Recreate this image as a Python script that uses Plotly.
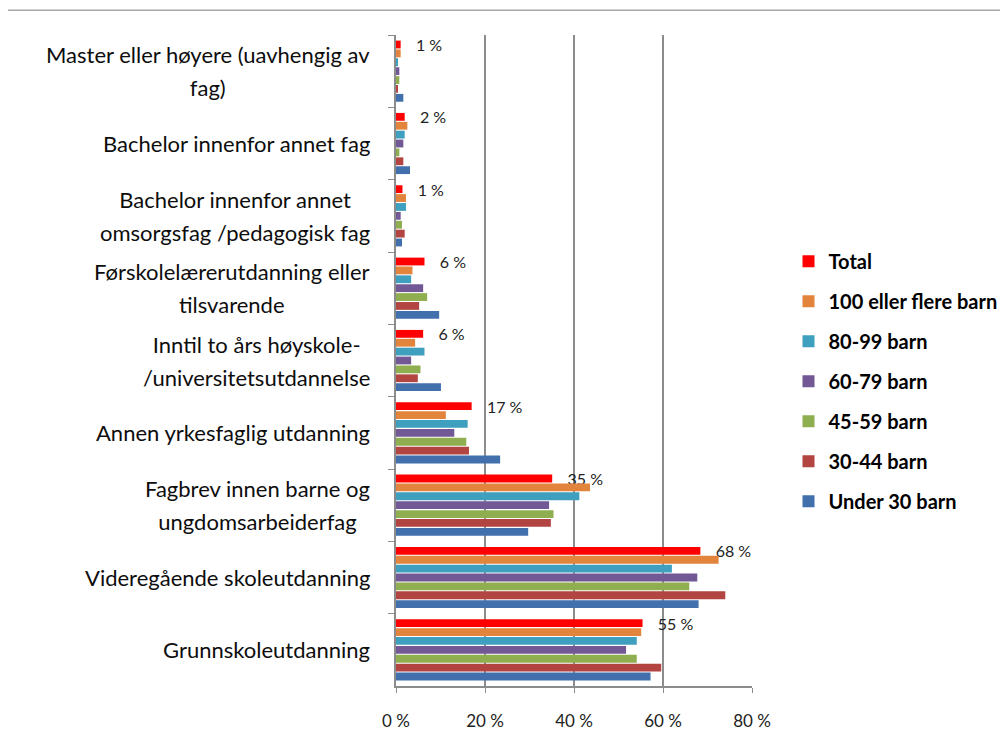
import plotly.graph_objects as go

# categories, top to bottom
categories = [
    "Master eller høyere (uavhengig av<br>fag)",
    "Bachelor innenfor annet fag",
    "Bachelor innenfor annet<br>omsorgsfag /pedagogisk fag",
    "Førskolelærerutdanning eller<br>tilsvarende",
    "Inntil to års høyskole-<br>/universitetsutdannelse",
    "Annen yrkesfaglig utdanning",
    "Fagbrev innen barne og<br>ungdomsarbeiderfag",
    "Videregående skoleutdanning",
    "Grunnskoleutdanning",
]

series_names = [
    "Total",
    "100 eller flere barn",
    "80-99 barn",
    "60-79 barn",
    "45-59 barn",
    "30-44 barn",
    "Under 30 barn",
]

total = [1.05, 1.95, 1.45, 6.4, 6.1, 17.0, 35.1, 68.4, 55.4]
barn_100 = [1.05, 2.55, 2.25, 3.7, 4.3, 11.2, 43.6, 72.5, 55.1]
barn_80_99 = [0.45, 1.95, 2.25, 3.4, 6.4, 16.1, 41.2, 62.0, 54.1]
barn_60_79 = [0.75, 1.65, 1.05, 6.1, 3.4, 13.1, 34.4, 67.7, 51.7]
barn_45_59 = [0.75, 0.75, 1.35, 7.0, 5.5, 15.8, 35.4, 65.9, 54.1]
barn_30_44 = [0.45, 1.65, 1.95, 5.2, 4.9, 16.4, 34.8, 74.0, 59.6]
barn_under_30 = [1.65, 3.15, 1.35, 9.7, 10.1, 23.4, 29.7, 68.0, 57.2]

series_values = [total, barn_100, barn_80_99, barn_60_79, barn_45_59, barn_30_44, barn_under_30]

colors = ["#ff0000", "#e3843c", "#3f9fbf", "#735896", "#8fae50", "#b24542", "#4170ad"]

x_ticks = [0, 20, 40, 60, 80]
x_tick_labels = ["0 %", "20 %", "40 %", "60 %", "80 %"]

FONT = "Lato"

fig = go.Figure()

for ix, (name, vals) in enumerate(zip(series_names, series_values)):
    bar = dict(
        x=vals,
        y=categories,
        name=name,
        orientation="h",
        marker=dict(color=colors[ix], line=dict(width=0)),
        legendgroup=name,
    )
    if ix == 0:
        bar.update(
            text=["\u00a0\u00a0\u00a0" + f"{v:.0f} %" for v in vals],
            textposition="outside",
            constraintext="none",
            cliponaxis=False,
            textfont=dict(size=16, color="#222222", family=FONT),
        )
    fig.add_trace(go.Bar(**bar))

# category labels as centered multi-line annotations
for cat in categories:
    lines = cat.split("<br>")
    txt = "<br>".join(f"<span style='font-size:22px'>{ln}</span>" for ln in lines)
    fig.add_annotation(
        x=0, xref="paper", y=cat, yref="y",
        text=txt, showarrow=False,
        xanchor="right", yanchor="middle", align="center",
        xshift=-24,
        font=dict(size=25, color="#0d0d0d", family=FONT),
    )

# outer chart frame
fig.add_shape(
    type="rect", xref="paper", yref="paper",
    x0=-1.101, x1=1.9, y0=-0.3, y1=1.038,
    line=dict(color="#a6a6a6", width=1.5),
    fillcolor="rgba(0,0,0,0)", layer="below",
)

fig.update_xaxes(
    range=[0, 80],
    tickvals=x_ticks,
    ticktext=x_tick_labels,
    showgrid=True, gridcolor="#8c8c8c", gridwidth=1.5,
    showline=True, linecolor="#8c8c8c", linewidth=1.5,
    ticks="outside", ticklen=5, tickcolor="#8c8c8c",
    ticklabelstandoff=14,
    tickfont=dict(size=17, color="#222222", family=FONT),
    zeroline=False,
)
fig.update_yaxes(
    autorange="reversed",
    showticklabels=False,
    showline=True, linecolor="#8c8c8c", linewidth=1.5,
    ticks="outside", ticklen=6, tickcolor="#8c8c8c",
    tickson="boundaries",
    showgrid=False,
)

# page body adds an 8px offset, so the figure is 8px smaller than the window
fig.update_layout(
    width=1000,
    height=740,
    autosize=False,
    barmode="group",
    bargap=0.14,
    bargroupgap=0.12,
    plot_bgcolor="white",
    paper_bgcolor="white",
    margin=dict(l=388, r=256, t=27, b=62, autoexpand=False),
    legend=dict(
        xref="container", yref="container",
        x=0.7805, xanchor="left",
        y=0.684, yanchor="top",
        font=dict(size=20, color="#000000", family=FONT, weight="bold"),
        tracegroupgap=11,
        bgcolor="rgba(0,0,0,0)",
    ),
    showlegend=True,
)

fig.write_html("out.html")
